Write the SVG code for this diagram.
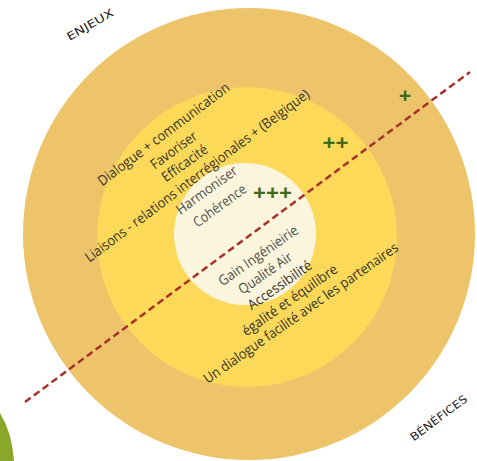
<svg xmlns="http://www.w3.org/2000/svg" width="477" height="461" viewBox="0 0 477 461">
<style>
.t{font-family:"Open Sans","Noto Sans",sans-serif;font-size:14px;fill:#33322c;text-anchor:middle}
.g{fill:#4f4e48}
.p{font-family:"Open Sans","Noto Sans",sans-serif;font-size:22px;font-weight:bold;fill:#3e6a1c;text-anchor:middle}
.h{font-family:"DejaVu Sans Condensed","DejaVu Sans",sans-serif;font-size:11px;fill:#222;text-anchor:middle}
</style>
<rect width="477" height="461" fill="#ffffff"/>
<path id="green" d="M0,413 Q12,432 14,461 L0,461 Z" fill="#8aa62b"/>
<g id="outer"><circle cx="249" cy="234" r="226" fill="#edc46a"/></g>
<g id="middle"><circle cx="247" cy="237" r="150" fill="#fcd958"/></g>
<g id="inner"><circle cx="245" cy="234" r="71" fill="#fbf5dd"/></g>
<g id="connectors">
<line x1="25" y1="402" x2="470" y2="72" stroke="#a8322a" stroke-width="2.5" stroke-dasharray="7 4"/>
</g>
<g id="enjeux-text">
<text class="t" transform="translate(166.5,138) rotate(-37)" textLength="161" lengthAdjust="spacingAndGlyphs">Dialogue + communication</text>
<text class="t" transform="translate(176.5,154) rotate(-36)" textLength="54" lengthAdjust="spacingAndGlyphs">Favoriser</text>
<text class="t" transform="translate(187.5,167) rotate(-36)" textLength="53" lengthAdjust="spacingAndGlyphs">Efficacité</text>
<text class="t" transform="translate(200,179.5) rotate(-37)" textLength="277" lengthAdjust="spacingAndGlyphs">Liaisons - relations interrégionales + (Belgique)</text>
<text class="t g" transform="translate(209.5,194) rotate(-36)" textLength="72" lengthAdjust="spacingAndGlyphs">Harmoniser</text>
<text class="t g" transform="translate(222.5,209.5) rotate(-36)" textLength="62" lengthAdjust="spacingAndGlyphs">Cohérence</text>
</g>
<g id="benefices-text">
<text class="t g" transform="translate(261,259.5) rotate(-35)" textLength="94" lengthAdjust="spacingAndGlyphs">Gain Ingénieirie</text>
<text class="t g" transform="translate(268,277) rotate(-35)" textLength="62" lengthAdjust="spacingAndGlyphs">Qualité Air</text>
<text class="t" transform="translate(282.5,289) rotate(-35)" textLength="75" lengthAdjust="spacingAndGlyphs">Accessibilité</text>
<text class="t" transform="translate(292.5,304) rotate(-35)" textLength="113" lengthAdjust="spacingAndGlyphs">égalité et équilibre</text>
<text class="t" transform="translate(303.5,317) rotate(-35)" textLength="234" lengthAdjust="spacingAndGlyphs">Un dialogue facilité avec les partenaires</text>
</g>
<g id="plus">
<text class="p" x="272.5" y="200" textLength="39" lengthAdjust="spacingAndGlyphs">+++</text>
<text class="p" x="335.5" y="150" textLength="26" lengthAdjust="spacingAndGlyphs">++</text>
<text class="p" x="405" y="103" font-size="18">+</text>
</g>
<g id="labels">
<text class="h" transform="translate(92,28) rotate(-30)" textLength="52" lengthAdjust="spacingAndGlyphs">ENJEUX</text>
<text class="h" transform="translate(441,421) rotate(-37)" textLength="68" lengthAdjust="spacingAndGlyphs">BÉNÉFICES</text>
</g>
</svg>
